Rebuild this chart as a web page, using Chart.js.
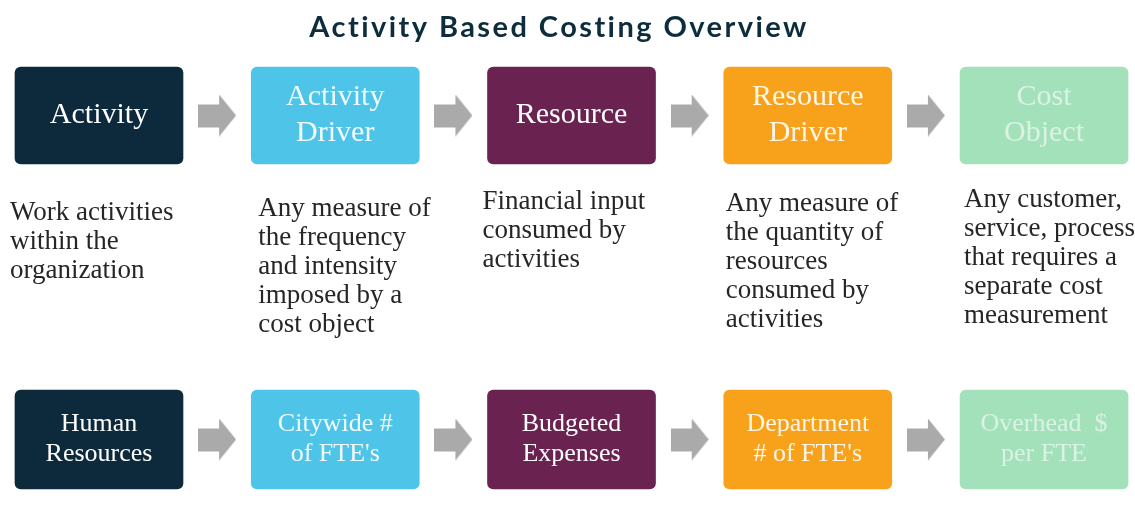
<!DOCTYPE html>
<html>
<head>
<meta charset="utf-8">
<title>Activity Based Costing Overview</title>
<script src="https://cdn.jsdelivr.net/npm/chart.js@4.4.1/dist/chart.umd.min.js"></script>
<style>
  html, body { margin: 0; padding: 0; background: #ffffff; }
  #wrap { width: 1135px; height: 521px; position: relative; }
</style>
</head>
<body>
<div id="wrap"><canvas id="abcChart"></canvas></div>
<script>
// ---- data ----
const chartTitle = "Activity Based Costing Overview";
const stages = [["Activity"], ["Activity", "Driver"], ["Resource"], ["Resource", "Driver"], ["Cost", "Object"]];
const examples = [["Human", "Resources"], ["Citywide #", "of FTE's"], ["Budgeted", "Expenses"], ["Department", "# of FTE's"], ["Overhead  $", "per FTE"]];
const descriptions = [
  ["Work activities", "within the", "organization"],
  ["Any measure of", "the frequency", "and intensity", "imposed by a", "cost object"],
  ["Financial input", "consumed by", "activities"],
  ["Any measure of", "the quantity of", "resources", "consumed by", "activities"],
  ["Any customer,", "service, process", "that requires a", "separate cost", "measurement"]
];
// vertical extent of each row of boxes, in axis units (axis runs 0..521 top to bottom)
const stageBand = [67, 164];
const exampleBand = [390, 489];

// ---- styling ----
const boxColors = ["#0c2a3b", "#4ec4e8", "#6a2251", "#f8a11a", "#a2e1ba"];
const boxTextColors = ["#ffffff", "#f2fbff", "#ffffff", "#fff6e6", "rgba(255,255,255,0.6)"];
const arrowColor = "#aaaaaa";
const descOffsetX = [-5, 7, -5, 2, 4];
const descFirstLine = [213, 209, 202, 204, 200];
const descLineGap = 29;

// arrow glyph used as the point style of the connector points
function makeArrow() {
  const c = document.createElement("canvas");
  c.width = 38; c.height = 42;
  const g = c.getContext("2d");
  g.fillStyle = arrowColor;
  g.beginPath();
  g.moveTo(0, 10); g.lineTo(21, 10); g.lineTo(21, 0);
  g.lineTo(38, 21);
  g.lineTo(21, 42); g.lineTo(21, 33); g.lineTo(0, 33);
  g.closePath();
  g.fill();
  return c;
}
const arrowImg = makeArrow();

const arrowPoints = [];
for (let i = 0; i < stages.length - 1; i++) {
  arrowPoints.push({ x: i + 0.5, y: (stageBand[0] + stageBand[1]) / 2 });
  arrowPoints.push({ x: i + 0.5, y: (exampleBand[0] + exampleBand[1]) / 2 });
}

const boxLabels = {
  id: "boxLabels",
  afterDatasetsDraw(chart) {
    const ctx = chart.ctx;
    const yScale = chart.scales.y;
    ctx.save();
    ctx.textAlign = "center";
    ctx.textBaseline = "middle";
    [[0, stages, 30, 36], [1, examples, 26, 30]].forEach(([di, texts, size, gap]) => {
      chart.getDatasetMeta(di).data.forEach((bar, i) => {
        const lines = texts[i];
        const cy = (bar.y + bar.base) / 2;
        ctx.font = size + "px 'Liberation Serif', serif";
        ctx.fillStyle = boxTextColors[i];
        lines.forEach((t, k) => {
          ctx.fillText(t, bar.x, cy + (k - (lines.length - 1) / 2) * gap);
        });
      });
    });
    // descriptions under the first row
    ctx.textAlign = "left";
    ctx.fillStyle = "#262626";
    ctx.font = "27px 'Liberation Serif', serif";
    chart.getDatasetMeta(0).data.forEach((bar, i) => {
      const left = bar.x - bar.width / 2 + descOffsetX[i];
      descriptions[i].forEach((t, k) => {
        ctx.fillText(t, left, yScale.getPixelForValue(descFirstLine[i] + k * descLineGap));
      });
    });
    // title, spaced out to the width of the original heading
    ctx.textAlign = "center";
    ctx.fillStyle = "#0d2d3d";
    ctx.font = "bold 29px Lato, 'DejaVu Sans', sans-serif";
    const w = ctx.measureText(chartTitle).width;
    ctx.letterSpacing = Math.max(0, (498 - w) / (chartTitle.length - 1)).toFixed(2) + "px";
    ctx.fillText(chartTitle, 559, 28);
    ctx.restore();
  }
};

const ctx = document.getElementById("abcChart").getContext("2d");
const abcChart = new Chart(ctx, {
  type: "bar",
  data: {
    datasets: [
      {
        label: "Stage",
        data: stages.map((s, i) => ({ x: i, y: stageBand })),
        backgroundColor: boxColors,
        borderRadius: 6,
        borderSkipped: false,
        barThickness: 168,
        grouped: false
      },
      {
        label: "Example",
        data: examples.map((s, i) => ({ x: i, y: exampleBand })),
        backgroundColor: boxColors,
        borderRadius: 6,
        borderSkipped: false,
        barThickness: 168,
        grouped: false
      },
      {
        type: "scatter",
        label: "Flow",
        data: arrowPoints,
        pointStyle: arrowImg,
        pointRadius: 19
      }
    ]
  },
  options: {
    responsive: true,
    maintainAspectRatio: false,
    animation: false,
    layout: { padding: 0, autoPadding: false },
    plugins: {
      legend: { display: false },
      title: { display: false },
      tooltip: { enabled: false }
    },
    scales: {
      x: { type: "linear", min: -0.419, max: 4.385, offset: false, display: false },
      y: { type: "linear", min: 0, max: 521, reverse: true, display: false }
    }
  },
  plugins: [boxLabels]
});
</script>
</body>
</html>
